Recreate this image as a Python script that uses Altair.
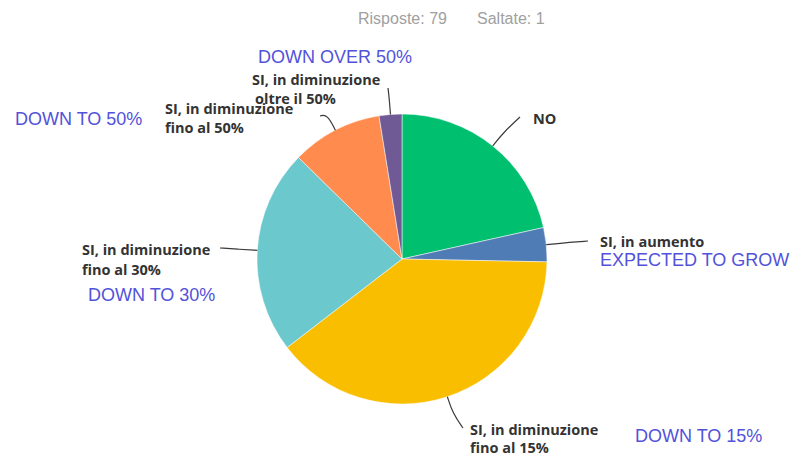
import math
import altair as alt
import pandas as pd

# ---------------- data ----------------
categories = [
    "NO",
    "SI, in aumento",
    "SI, in diminuzione fino al 15%",
    "SI, in diminuzione fino al 30%",
    "SI, in diminuzione fino al 50%",
    "SI, in diminuzione oltre il 50%",
]
counts = [17, 3, 31, 18, 8, 2]
label_line1 = ["NO", "SI, in aumento", "SI, in diminuzione", "SI, in diminuzione",
               "SI, in diminuzione", "SI, in diminuzione"]
label_line2 = ["", "", "fino al 15%", "fino al 30%", "fino al 50%", "oltre il 50%"]
translations = ["", "EXPECTED TO GROW", "DOWN TO 15%", "DOWN TO 30%",
                "DOWN TO 50%", "DOWN OVER 50%"]
header_texts = ["Risposte: 79", "Saltate: 1"]

# ---------------- styles / layout ----------------
colors = ["#00BF6F", "#507CB6", "#F9BE00", "#6BC8CD", "#FF8B4F", "#6F5A95"]
W, H, M = 784, 450, 8
CX, CY, R = 402, 259, 145          # pie centre / radius (page px)
line_gap = [19, 19, 18, 20, 19, 19]
label_pos = [(533, 120), (600, 243), (470, 431), (82, 251), (165, 110), (252, 81)]
line2_dx = [0, 0, 0, 0, 0, 3]
leader_end = [(520, 117), (588, 241), (463, 428), (220, 248), (320, 116), (388, 88)]
trans_pos = [None, (600, 261), (635, 437), (88, 296), (15, 120), (258, 58)]
header_pos = [(358, 19), (477, 19)]

total = sum(counts)
pie_df = pd.DataFrame({"cat": categories, "count": counts, "idx": range(len(categories))})

# leader lines: start on pie edge at slice mid angle, bend radially, end at label
rows = []
cum = 0
for i, (cat, c) in enumerate(zip(categories, counts)):
    mid = (cum + c / 2) / total * 2 * math.pi
    cum += c
    sx, sy = CX + R * math.sin(mid), CY - R * math.cos(mid)
    mx, my = CX + (R + 18) * math.sin(mid), CY - (R + 18) * math.cos(mid)
    ex, ey = leader_end[i]
    for step, (px, py) in enumerate([(sx, sy), (mx, my), (ex, ey)]):
        rows.append({"cat": cat, "step": step, "px": px, "py": py})
leader_df = pd.DataFrame(rows)

lab_rows = []
for i in range(len(categories)):
    x, y = label_pos[i]
    lab_rows.append({"t": label_line1[i], "px": x, "py": y})
    if label_line2[i]:
        lab_rows.append({"t": label_line2[i], "px": x + line2_dx[i], "py": y + line_gap[i]})
lab_df = pd.DataFrame(lab_rows)

tr_rows = [{"t": translations[i], "px": trans_pos[i][0], "py": trans_pos[i][1]}
           for i in range(len(categories)) if translations[i]]
tr_df = pd.DataFrame(tr_rows)

hd_df = pd.DataFrame({"t": header_texts, "px": [p[0] for p in header_pos],
                      "py": [p[1] for p in header_pos]})

xs = alt.Scale(domain=[M, M + W], nice=False, zero=False)
ys = alt.Scale(domain=[M, M + H], nice=False, zero=False, reverse=True)
X = alt.X("px:Q", scale=xs, axis=None)
Y = alt.Y("py:Q", scale=ys, axis=None)

pie = alt.Chart(pie_df).mark_arc(outerRadius=R, stroke="white", strokeWidth=0.5).encode(
    theta=alt.Theta("count:Q", stack=True),
    color=alt.Color("cat:N", scale=alt.Scale(domain=categories, range=colors), legend=None),
    order=alt.Order("idx:Q"),
    x=alt.value(CX - M),
    y=alt.value(CY - M),
)

leaders = alt.Chart(leader_df).mark_line(interpolate="basis", color="#3a3a3a",
                                         strokeWidth=1.2).encode(
    x=X, y=Y, detail="cat:N", order="step:Q")

labels = alt.Chart(lab_df).mark_text(align="left", baseline="middle", font="Open Sans",
                                     fontWeight="bold", fontSize=14.5, color="#333333").encode(
    x=X, y=Y, text="t:N")

trans = alt.Chart(tr_df).mark_text(align="left", baseline="middle", font="Liberation Sans",
                                   fontSize=18, color="#5252DA").encode(
    x=X, y=Y, text="t:N")

header = alt.Chart(hd_df).mark_text(align="left", baseline="middle", font="Liberation Sans",
                                    fontSize=16, color="#a0a0a0").encode(
    x=X, y=Y, text="t:N")

chart = alt.layer(pie, leaders, labels, trans, header).properties(
    width=W, height=H, autosize=alt.AutoSizeParams(type="none"), padding=0
).configure_view(stroke=None)

chart.save("out.html", embed_options={"renderer": "svg", "actions": False})
